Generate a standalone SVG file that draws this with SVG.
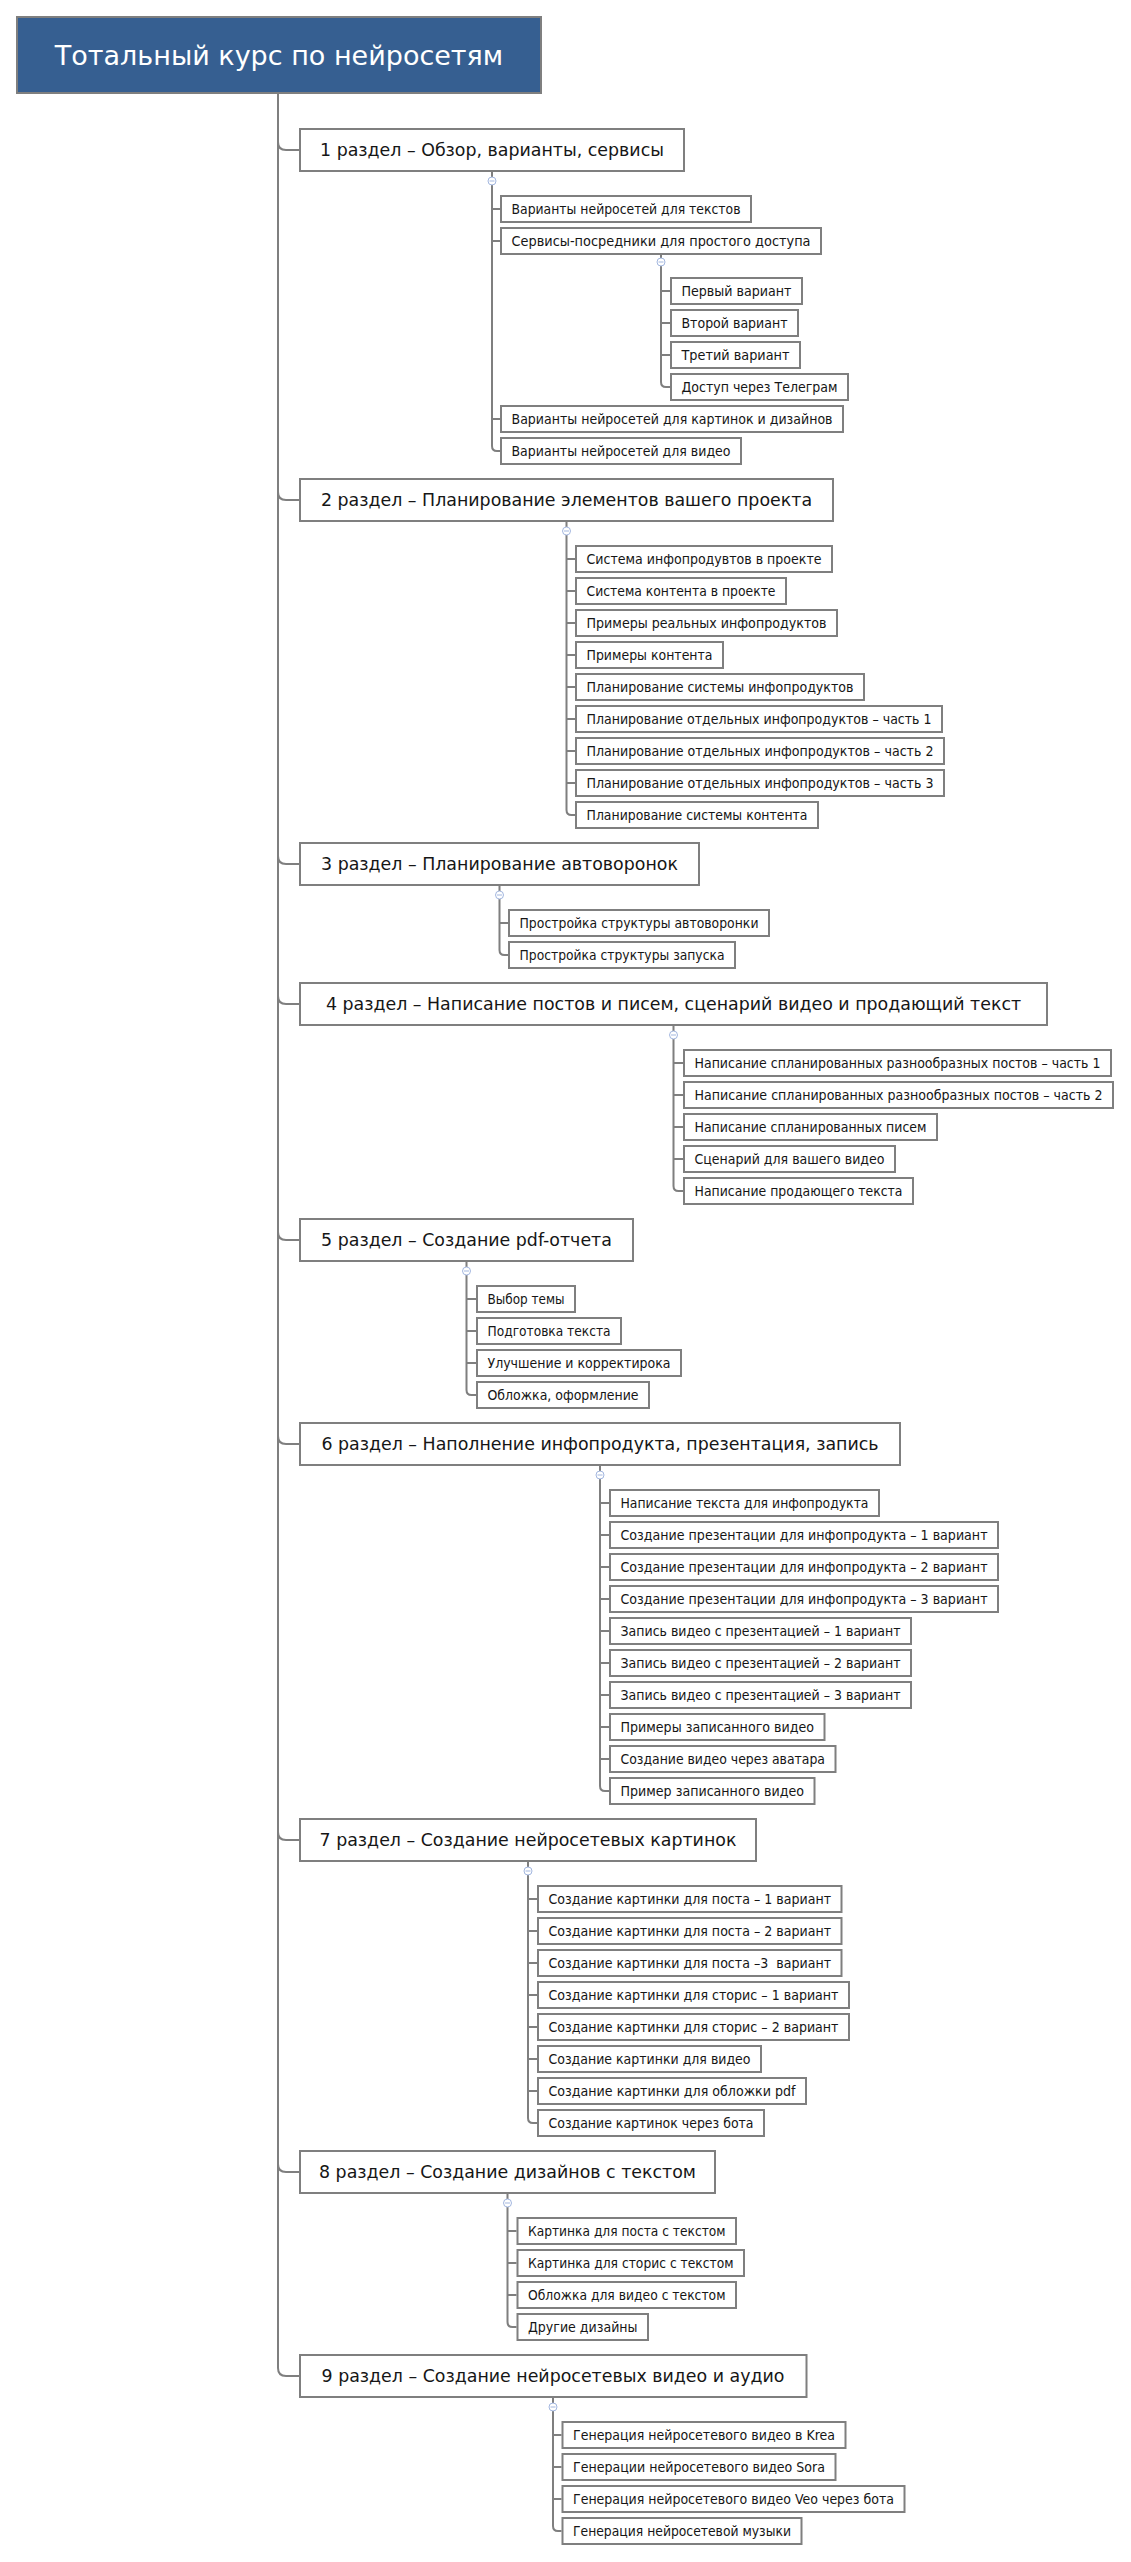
<svg xmlns="http://www.w3.org/2000/svg" width="1131" height="2562" viewBox="0 0 1131 2562">
<style>
text{font-family:"DejaVu Sans","Liberation Sans",sans-serif;fill:#161616;text-anchor:middle}
.sec rect,.leaf rect{fill:#ffffff;stroke:#7f7f7f;stroke-width:2}
.sec text{font-size:17.4px}
.leaf text{font-size:13.5px}
#title rect{fill:#365f91;stroke:#7f7f7f;stroke-width:2}
#title text{font-size:27px;fill:#ffffff}
.conn path{fill:none;stroke:#7f7f7f;stroke-width:2}
.tog circle{fill:#ffffff;stroke:#a3b7df;stroke-width:1}
.tog path{stroke:#a3b7df;stroke-width:1;fill:none}
</style>
<rect width="1131" height="2562" fill="#ffffff"/>

<g class="conn">
<path d="M278 94V2368Q278 2376 286 2376H299"/>
<path d="M278 142Q278 150 286 150H299"/>
<path d="M278 492Q278 500 286 500H299"/>
<path d="M278 856Q278 864 286 864H299"/>
<path d="M278 996Q278 1004 286 1004H299"/>
<path d="M278 1232Q278 1240 286 1240H299"/>
<path d="M278 1436Q278 1444 286 1444H299"/>
<path d="M278 1832Q278 1840 286 1840H299"/>
<path d="M278 2164Q278 2172 286 2172H299"/>
<path d="M492 172V177M492 185V446Q492 451 497 451H500M492 209H500M492 241H500M492 419H500"/>
<path d="M661 255V258M661 266V382Q661 387 666 387H670M661 291H670M661 323H670M661 355H670"/>
<path d="M566.5 522V527M566.5 535V810Q566.5 815 571.5 815H575M566.5 559H575M566.5 591H575M566.5 623H575M566.5 655H575M566.5 687H575M566.5 719H575M566.5 751H575M566.5 783H575"/>
<path d="M499.5 886V891M499.5 899V950Q499.5 955 504.5 955H508M499.5 923H508"/>
<path d="M673.5 1026V1031M673.5 1039V1186Q673.5 1191 678.5 1191H683M673.5 1063H683M673.5 1095H683M673.5 1127H683M673.5 1159H683"/>
<path d="M466.5 1262V1267M466.5 1275V1390Q466.5 1395 471.5 1395H476M466.5 1299H476M466.5 1331H476M466.5 1363H476"/>
<path d="M600 1466V1471M600 1479V1786Q600 1791 605 1791H609M600 1503H609M600 1535H609M600 1567H609M600 1599H609M600 1631H609M600 1663H609M600 1695H609M600 1727H609M600 1759H609"/>
<path d="M528 1862V1867M528 1875V2118Q528 2123 533 2123H537M528 1899H537M528 1931H537M528 1963H537M528 1995H537M528 2027H537M528 2059H537M528 2091H537"/>
<path d="M507.5 2194V2199M507.5 2207V2322Q507.5 2327 512.5 2327H516.5M507.5 2231H516.5M507.5 2263H516.5M507.5 2295H516.5"/>
<path d="M553 2398V2403M553 2411V2526Q553 2531 558 2531H561.5M553 2435H561.5M553 2467H561.5M553 2499H561.5"/>
</g>

<g class="tog">
<circle cx="492" cy="181" r="4"/><path d="M489.5 181H494.5"/>
<circle cx="661" cy="262" r="4"/><path d="M658.5 262H663.5"/>
<circle cx="566.5" cy="531" r="4"/><path d="M564 531H569"/>
<circle cx="499.5" cy="895" r="4"/><path d="M497 895H502"/>
<circle cx="673.5" cy="1035" r="4"/><path d="M671 1035H676"/>
<circle cx="466.5" cy="1271" r="4"/><path d="M464 1271H469"/>
<circle cx="600" cy="1475" r="4"/><path d="M597.5 1475H602.5"/>
<circle cx="528" cy="1871" r="4"/><path d="M525.5 1871H530.5"/>
<circle cx="507.5" cy="2203" r="4"/><path d="M505 2203H510"/>
<circle cx="553" cy="2407" r="4"/><path d="M550.5 2407H555.5"/>
</g>

<g id="title"><rect x="17" y="17" width="524" height="76"/><text x="279" y="64.5">Тотальный курс по нейросетям</text></g>

<g id="s1" class="sec"><rect x="300" y="129" width="384" height="42"/><text x="492" y="156">1 раздел – Обзор, варианты, сервисы</text></g>
<g id="s1-1" class="leaf"><rect x="501" y="196" width="250" height="26"/><text x="626" y="213.8" textLength="229" lengthAdjust="spacingAndGlyphs">Варианты нейросетей для текстов</text></g>
<g id="s1-2" class="leaf"><rect x="501" y="228" width="320" height="26"/><text x="661" y="245.8" textLength="299" lengthAdjust="spacingAndGlyphs">Сервисы-посредники для простого доступа</text></g>
<g id="s1-2-1" class="leaf"><rect x="671" y="278" width="131" height="26"/><text x="736.5" y="295.8" textLength="110" lengthAdjust="spacingAndGlyphs">Первый вариант</text></g>
<g id="s1-2-2" class="leaf"><rect x="671" y="310" width="127" height="26"/><text x="734.5" y="327.8" textLength="106" lengthAdjust="spacingAndGlyphs">Второй вариант</text></g>
<g id="s1-2-3" class="leaf"><rect x="671" y="342" width="129" height="26"/><text x="735.5" y="359.8" textLength="108" lengthAdjust="spacingAndGlyphs">Третий вариант</text></g>
<g id="s1-2-4" class="leaf"><rect x="671" y="374" width="177" height="26"/><text x="759.5" y="391.8" textLength="156" lengthAdjust="spacingAndGlyphs">Доступ через Телеграм</text></g>
<g id="s1-3" class="leaf"><rect x="501" y="406" width="342" height="26"/><text x="672" y="423.8" textLength="321" lengthAdjust="spacingAndGlyphs">Варианты нейросетей для картинок и дизайнов</text></g>
<g id="s1-4" class="leaf"><rect x="501" y="438" width="240" height="26"/><text x="621" y="455.8" textLength="219" lengthAdjust="spacingAndGlyphs">Варианты нейросетей для видео</text></g>

<g id="s2" class="sec"><rect x="300" y="479" width="533" height="42"/><text x="566.5" y="506">2 раздел – Планирование элементов вашего проекта</text></g>
<g id="s2-1" class="leaf"><rect x="576" y="546" width="256" height="26"/><text x="704" y="563.8" textLength="235" lengthAdjust="spacingAndGlyphs">Система инфопродувтов в проекте</text></g>
<g id="s2-2" class="leaf"><rect x="576" y="578" width="210" height="26"/><text x="681" y="595.8" textLength="189" lengthAdjust="spacingAndGlyphs">Система контента в проекте</text></g>
<g id="s2-3" class="leaf"><rect x="576" y="610" width="261" height="26"/><text x="706.5" y="627.8" textLength="240" lengthAdjust="spacingAndGlyphs">Примеры реальных инфопродуктов</text></g>
<g id="s2-4" class="leaf"><rect x="576" y="642" width="147" height="26"/><text x="649.5" y="659.8" textLength="126" lengthAdjust="spacingAndGlyphs">Примеры контента</text></g>
<g id="s2-5" class="leaf"><rect x="576" y="674" width="288" height="26"/><text x="720" y="691.8" textLength="267" lengthAdjust="spacingAndGlyphs">Планирование системы инфопродуктов</text></g>
<g id="s2-6" class="leaf"><rect x="576" y="706" width="366" height="26"/><text x="759" y="723.8" textLength="345" lengthAdjust="spacingAndGlyphs">Планирование отдельных инфопродуктов – часть 1</text></g>
<g id="s2-7" class="leaf"><rect x="576" y="738" width="368" height="26"/><text x="760" y="755.8" textLength="347" lengthAdjust="spacingAndGlyphs">Планирование отдельных инфопродуктов – часть 2</text></g>
<g id="s2-8" class="leaf"><rect x="576" y="770" width="368" height="26"/><text x="760" y="787.8" textLength="347" lengthAdjust="spacingAndGlyphs">Планирование отдельных инфопродуктов – часть 3</text></g>
<g id="s2-9" class="leaf"><rect x="576" y="802" width="242" height="26"/><text x="697" y="819.8" textLength="221" lengthAdjust="spacingAndGlyphs">Планирование системы контента</text></g>

<g id="s3" class="sec"><rect x="300" y="843" width="399" height="42"/><text x="499.5" y="870">3 раздел – Планирование автоворонок</text></g>
<g id="s3-1" class="leaf"><rect x="509" y="910" width="260" height="26"/><text x="639" y="927.8" textLength="239" lengthAdjust="spacingAndGlyphs">Простройка структуры автоворонки</text></g>
<g id="s3-2" class="leaf"><rect x="509" y="942" width="226" height="26"/><text x="622" y="959.8" textLength="205" lengthAdjust="spacingAndGlyphs">Простройка структуры запуска</text></g>

<g id="s4" class="sec"><rect x="300" y="983" width="747" height="42"/><text x="673.5" y="1010">4 раздел – Написание постов и писем, сценарий видео и продающий текст</text></g>
<g id="s4-1" class="leaf"><rect x="684" y="1050" width="427" height="26"/><text x="897.5" y="1067.8" textLength="406" lengthAdjust="spacingAndGlyphs">Написание спланированных разнообразных постов – часть 1</text></g>
<g id="s4-2" class="leaf"><rect x="684" y="1082" width="429" height="26"/><text x="898.5" y="1099.8" textLength="408" lengthAdjust="spacingAndGlyphs">Написание спланированных разнообразных постов – часть 2</text></g>
<g id="s4-3" class="leaf"><rect x="684" y="1114" width="253" height="26"/><text x="810.5" y="1131.8" textLength="232" lengthAdjust="spacingAndGlyphs">Написание спланированных писем</text></g>
<g id="s4-4" class="leaf"><rect x="684" y="1146" width="211" height="26"/><text x="789.5" y="1163.8" textLength="190" lengthAdjust="spacingAndGlyphs">Сценарий для вашего видео</text></g>
<g id="s4-5" class="leaf"><rect x="684" y="1178" width="229" height="26"/><text x="798.5" y="1195.8" textLength="208" lengthAdjust="spacingAndGlyphs">Написание продающего текста</text></g>

<g id="s5" class="sec"><rect x="300" y="1219" width="333" height="42"/><text x="466.5" y="1246">5 раздел – Создание pdf-отчета</text></g>
<g id="s5-1" class="leaf"><rect x="477" y="1286" width="98" height="26"/><text x="526" y="1303.8" textLength="77" lengthAdjust="spacingAndGlyphs">Выбор темы</text></g>
<g id="s5-2" class="leaf"><rect x="477" y="1318" width="144" height="26"/><text x="549" y="1335.8" textLength="123" lengthAdjust="spacingAndGlyphs">Подготовка текста</text></g>
<g id="s5-3" class="leaf"><rect x="477" y="1350" width="204" height="26"/><text x="579" y="1367.8" textLength="183" lengthAdjust="spacingAndGlyphs">Улучшение и корректирока</text></g>
<g id="s5-4" class="leaf"><rect x="477" y="1382" width="172" height="26"/><text x="563" y="1399.8" textLength="151" lengthAdjust="spacingAndGlyphs">Обложка, оформление</text></g>

<g id="s6" class="sec"><rect x="300" y="1423" width="600" height="42"/><text x="600" y="1450">6 раздел – Наполнение инфопродукта, презентация, запись</text></g>
<g id="s6-1" class="leaf"><rect x="610" y="1490" width="269" height="26"/><text x="744.5" y="1507.8" textLength="248" lengthAdjust="spacingAndGlyphs">Написание текста для инфопродукта</text></g>
<g id="s6-2" class="leaf"><rect x="610" y="1522" width="388" height="26"/><text x="804" y="1539.8" textLength="367" lengthAdjust="spacingAndGlyphs">Создание презентации для инфопродукта – 1 вариант</text></g>
<g id="s6-3" class="leaf"><rect x="610" y="1554" width="388" height="26"/><text x="804" y="1571.8" textLength="367" lengthAdjust="spacingAndGlyphs">Создание презентации для инфопродукта – 2 вариант</text></g>
<g id="s6-4" class="leaf"><rect x="610" y="1586" width="388" height="26"/><text x="804" y="1603.8" textLength="367" lengthAdjust="spacingAndGlyphs">Создание презентации для инфопродукта – 3 вариант</text></g>
<g id="s6-5" class="leaf"><rect x="610" y="1618" width="301" height="26"/><text x="760.5" y="1635.8" textLength="280" lengthAdjust="spacingAndGlyphs">Запись видео с презентацией – 1 вариант</text></g>
<g id="s6-6" class="leaf"><rect x="610" y="1650" width="301" height="26"/><text x="760.5" y="1667.8" textLength="280" lengthAdjust="spacingAndGlyphs">Запись видео с презентацией – 2 вариант</text></g>
<g id="s6-7" class="leaf"><rect x="610" y="1682" width="301" height="26"/><text x="760.5" y="1699.8" textLength="280" lengthAdjust="spacingAndGlyphs">Запись видео с презентацией – 3 вариант</text></g>
<g id="s6-8" class="leaf"><rect x="610" y="1714" width="214.5" height="26"/><text x="717.25" y="1731.8" textLength="193.5" lengthAdjust="spacingAndGlyphs">Примеры записанного видео</text></g>
<g id="s6-9" class="leaf"><rect x="610" y="1746" width="225.5" height="26"/><text x="722.75" y="1763.8" textLength="204.5" lengthAdjust="spacingAndGlyphs">Создание видео через аватара</text></g>
<g id="s6-10" class="leaf"><rect x="610" y="1778" width="204.5" height="26"/><text x="712.25" y="1795.8" textLength="183.5" lengthAdjust="spacingAndGlyphs">Пример записанного видео</text></g>

<g id="s7" class="sec"><rect x="300" y="1819" width="456" height="42"/><text x="528" y="1846">7 раздел – Создание нейросетевых картинок</text></g>
<g id="s7-1" class="leaf"><rect x="538" y="1886" width="303.5" height="26"/><text x="689.75" y="1903.8" textLength="282.5" lengthAdjust="spacingAndGlyphs">Создание картинки для поста – 1 вариант</text></g>
<g id="s7-2" class="leaf"><rect x="538" y="1918" width="303.5" height="26"/><text x="689.75" y="1935.8" textLength="282.5" lengthAdjust="spacingAndGlyphs">Создание картинки для поста – 2 вариант</text></g>
<g id="s7-3" class="leaf"><rect x="538" y="1950" width="303.5" height="26"/><text x="689.75" y="1967.8" textLength="282.5" lengthAdjust="spacingAndGlyphs" xml:space="preserve">Создание картинки для поста –3  вариант</text></g>
<g id="s7-4" class="leaf"><rect x="538" y="1982" width="311" height="26"/><text x="693.5" y="1999.8" textLength="290" lengthAdjust="spacingAndGlyphs">Создание картинки для сторис – 1 вариант</text></g>
<g id="s7-5" class="leaf"><rect x="538" y="2014" width="311" height="26"/><text x="693.5" y="2031.8" textLength="290" lengthAdjust="spacingAndGlyphs">Создание картинки для сторис – 2 вариант</text></g>
<g id="s7-6" class="leaf"><rect x="538" y="2046" width="223" height="26"/><text x="649.5" y="2063.8" textLength="202" lengthAdjust="spacingAndGlyphs">Создание картинки для видео</text></g>
<g id="s7-7" class="leaf"><rect x="538" y="2078" width="268" height="26"/><text x="672" y="2095.8" textLength="247" lengthAdjust="spacingAndGlyphs">Создание картинки для обложки pdf</text></g>
<g id="s7-8" class="leaf"><rect x="538" y="2110" width="226" height="26"/><text x="651" y="2127.8" textLength="205" lengthAdjust="spacingAndGlyphs">Создание картинок через бота</text></g>

<g id="s8" class="sec"><rect x="300" y="2151" width="415" height="42"/><text x="507.5" y="2178">8 раздел – Создание дизайнов с текстом</text></g>
<g id="s8-1" class="leaf"><rect x="517.5" y="2218" width="218.5" height="26"/><text x="626.75" y="2235.8" textLength="197.5" lengthAdjust="spacingAndGlyphs">Картинка для поста с текстом</text></g>
<g id="s8-2" class="leaf"><rect x="517.5" y="2250" width="226.5" height="26"/><text x="630.75" y="2267.8" textLength="205.5" lengthAdjust="spacingAndGlyphs">Картинка для сторис с текстом</text></g>
<g id="s8-3" class="leaf"><rect x="517.5" y="2282" width="218.5" height="26"/><text x="626.75" y="2299.8" textLength="197.5" lengthAdjust="spacingAndGlyphs">Обложка для видео с текстом</text></g>
<g id="s8-4" class="leaf"><rect x="517.5" y="2314" width="130.5" height="26"/><text x="582.75" y="2331.8" textLength="109.5" lengthAdjust="spacingAndGlyphs">Другие дизайны</text></g>

<g id="s9" class="sec"><rect x="300" y="2355" width="506.5" height="42"/><text x="553" y="2382">9 раздел – Создание нейросетевых видео и аудио</text></g>
<g id="s9-1" class="leaf"><rect x="562.5" y="2422" width="283" height="26"/><text x="704" y="2439.8" textLength="262" lengthAdjust="spacingAndGlyphs">Генерация нейросетевого видео в Krea</text></g>
<g id="s9-2" class="leaf"><rect x="562.5" y="2454" width="273" height="26"/><text x="699" y="2471.8" textLength="252" lengthAdjust="spacingAndGlyphs">Генерации нейросетевого видео Sora</text></g>
<g id="s9-3" class="leaf"><rect x="562.5" y="2486" width="342" height="26"/><text x="733.5" y="2503.8" textLength="321" lengthAdjust="spacingAndGlyphs">Генерация нейросетевого видео Veo через бота</text></g>
<g id="s9-4" class="leaf"><rect x="562.5" y="2518" width="239" height="26"/><text x="682" y="2535.8" textLength="218" lengthAdjust="spacingAndGlyphs">Генерация нейросетевой музыки</text></g>
</svg>
